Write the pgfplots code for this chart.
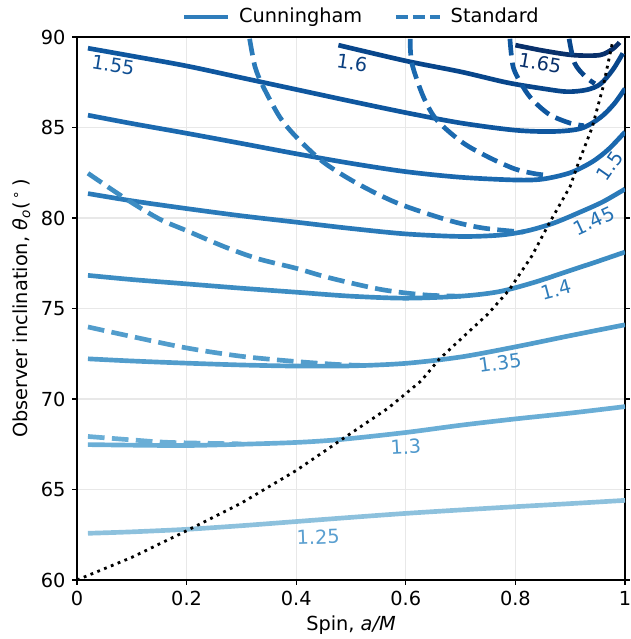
\documentclass[border=0pt]{standalone}
\usepackage{pgfplots}
\pgfplotsset{compat=1.18}
\usepackage{fontspec}
\setmainfont{DejaVu Sans}
\definecolor{c125}{HTML}{8DC1DD}
\definecolor{c130}{HTML}{6AAED6}
\definecolor{c135}{HTML}{529DCC}
\definecolor{c140}{HTML}{3D8DC3}
\definecolor{c145}{HTML}{2A7AB9}
\definecolor{c150}{HTML}{1B69AF}
\definecolor{c155}{HTML}{0F579F}
\definecolor{c160}{HTML}{08468B}
\definecolor{c165}{HTML}{08306B}
\definecolor{l125}{HTML}{5A9FD0}
\definecolor{l130}{HTML}{4E98CC}
\definecolor{l135}{HTML}{3D89C2}
\definecolor{l140}{HTML}{2F7DBB}
\definecolor{l145}{HTML}{2472B5}
\definecolor{l150}{HTML}{1A62A8}
\definecolor{l155}{HTML}{104F93}
\definecolor{l160}{HTML}{0A3F80}
\definecolor{l165}{HTML}{08306B}
\definecolor{legc}{HTML}{2F7DBB}
\begin{document}
\fontsize{14.5}{17}\selectfont
\begin{tikzpicture}
\begin{axis}[
  scale only axis,
  width=411pt, height=407.25pt,
  xmin=0, xmax=1, ymin=60, ymax=90,
  xtick={0,0.2,0.4,0.6,0.8,1},
  xticklabels={0,0.2,0.4,0.6,0.8,1},
  ytick={60,65,70,75,80,85,90},
  xtick pos=bottom, ytick pos=both,
  tick align=outside,
  major tick length=3.65pt,
  every tick/.style={black, line width=0.85pt},
  axis line style={line width=0.85pt},
  grid=major,
  major grid style={line width=0.8pt, color=black!9},
  /pgf/number format/assume math mode=true,
  tick label style={font=\fontsize{14.5}{17}\selectfont},
  label style={font=\fontsize{14.5}{17}\selectfont},
  xlabel={Spin, \textit{a/M}},
  ylabel={Observer inclination, \textit{θ}\textsubscript{\textit{o}}(\,\textsuperscript{∘}\,)},
  xlabel style={yshift=3pt},
  ylabel style={yshift=-2pt},
  clip=true,
  legend style={at={(0.52,1.037)}, anchor=center, draw=none, fill=none,
     font=\fontsize{14.5}{17}\selectfont, legend columns=2,
     /tikz/every odd column/.append style={column sep=5pt},
     /tikz/every even column/.append style={column sep=22pt}},
  legend cell align=left,
  legend image code/.code={\draw[#1] (0pt,0pt) -- (33pt,0pt);},
  every axis plot/.append style={line width=3.5pt, line join=round},
]
\addlegendimage{legc, line width=2.4pt}
\addlegendentry{Cunningham}
\addlegendimage{legc, line width=2.4pt, dash pattern=on 9pt off 3.9pt}
\addlegendentry{Standard}

% Cunningham (solid)
\addplot[c125, smooth, forget plot] coordinates {(0.02,62.58)(0.1,62.66)(0.2,62.8)(0.3,63.0)(0.4,63.23)(0.5,63.46)(0.6,63.68)(0.7,63.87)(0.8,64.05)(0.9,64.22)(1.0,64.4)};
\addplot[c130, smooth, forget plot] coordinates {(0.02,67.48)(0.1,67.45)(0.2,67.43)(0.3,67.5)(0.4,67.6)(0.48,67.76)(0.6,68.15)(0.7,68.55)(0.8,68.9)(0.9,69.22)(1.0,69.58)};
\addplot[c135, smooth, forget plot] coordinates {(0.02,72.22)(0.1,72.1)(0.2,71.98)(0.3,71.88)(0.4,71.82)(0.5,71.83)(0.6,71.97)(0.7,72.32)(0.8,72.88)(0.9,73.5)(1.0,74.1)};
\addplot[c140, smooth, forget plot] coordinates {(0.02,76.83)(0.1,76.6)(0.2,76.36)(0.3,76.12)(0.4,75.9)(0.5,75.68)(0.6,75.57)(0.7,75.68)(0.77,75.93)(0.835,76.45)(0.9,77.1)(0.95,77.6)(1.0,78.12)};
\addplot[c145, smooth, forget plot] coordinates {(0.02,81.35)(0.1,80.95)(0.2,80.52)(0.3,80.12)(0.4,79.77)(0.5,79.42)(0.6,79.12)(0.7,78.98)(0.77,79.05)(0.82,79.28)(0.87,79.72)(0.92,80.35)(0.96,80.9)(1.0,81.6)};
\addplot[c150, smooth, forget plot] coordinates {(0.02,85.68)(0.1,85.22)(0.2,84.68)(0.3,84.12)(0.4,83.55)(0.5,83.02)(0.6,82.56)(0.7,82.25)(0.8,82.1)(0.85,82.15)(0.9,82.5)(0.94,83.1)(0.97,83.8)(1.0,84.75)};
\addplot[c155, smooth, forget plot] coordinates {(0.02,89.38)(0.1,88.95)(0.2,88.4)(0.3,87.75)(0.4,87.1)(0.5,86.45)(0.6,85.82)(0.7,85.25)(0.8,84.85)(0.87,84.78)(0.92,84.95)(0.955,85.55)(0.98,86.3)(1.0,87.15)};
\addplot[c160, smooth, forget plot] coordinates {(0.477,89.55)(0.6,88.68)(0.7,88.08)(0.785,87.48)(0.85,87.15)(0.894,86.98)(0.93,87.08)(0.955,87.4)(0.978,88.2)(0.996,89.1)};
\addplot[c165, smooth, forget plot] coordinates {(0.8,89.55)(0.85,89.25)(0.905,89.0)(0.954,89.0)(0.978,89.35)(0.99,89.7)};

% Standard (dashed)
\addplot[c130, smooth, dash pattern=on 12.5pt off 5.5pt, forget plot] coordinates {(0.02,67.93)(0.1,67.74)(0.17,67.6)(0.3,67.52)};
\addplot[c135, smooth, dash pattern=on 12.5pt off 5.5pt, forget plot] coordinates {(0.02,73.98)(0.1,73.45)(0.2,72.82)(0.3,72.36)(0.4,72.07)(0.48,71.9)(0.53,71.85)};
\addplot[c140, smooth, dash pattern=on 12.5pt off 5.5pt, forget plot] coordinates {(0.02,82.47)(0.09,81.04)(0.15,79.95)(0.2,79.3)(0.27,78.4)(0.33,77.75)(0.4,77.22)(0.46,76.7)(0.555,76.05)(0.635,75.75)(0.7,75.68)};
\addplot[c145, smooth, dash pattern=on 12.5pt off 5.5pt, forget plot] coordinates {(0.315,89.9)(0.325,88.34)(0.34,87.24)(0.37,85.58)(0.4,84.48)(0.449,83.1)(0.51,81.93)(0.584,80.83)(0.675,79.9)(0.74,79.45)(0.815,79.22)};
\addplot[c150, smooth, dash pattern=on 12.5pt off 5.5pt, forget plot] coordinates {(0.608,89.9)(0.611,88.56)(0.632,86.7)(0.657,85.4)(0.705,84.14)(0.755,83.3)(0.8,82.7)(0.835,82.45)(0.86,82.35)};
\addplot[c155, smooth, dash pattern=on 12.5pt off 5.5pt, forget plot] coordinates {(0.79,89.9)(0.796,88.34)(0.814,87.24)(0.832,86.5)(0.863,85.7)(0.9,85.24)(0.925,85.1)};
\addplot[c160, smooth, dash pattern=on 12.5pt off 5.5pt, forget plot] coordinates {(0.898,89.9)(0.908,88.56)(0.928,87.8)(0.945,87.42)};

% dotted black
\addplot[black, line width=2.1pt, dash pattern=on 2.1pt off 3.4pt, forget plot] coordinates {(0,60)(0.1,61.25)(0.2,62.72)(0.3,64.25)(0.4,66.05)(0.48,67.7)(0.568,69.5)(0.628,71.0)(0.661,72.2)(0.7,73.3)(0.75,74.7)(0.788,76.0)(0.83,77.9)(0.861,79.67)(0.9,81.75)(0.912,82.8)(0.94,85.0)(0.96,87.24)(0.978,89.83)};

% labels
\node[text=l125, rotate=2] at (axis cs:0.44,62.37) {1.25};
\node[text=l130, rotate=3] at (axis cs:0.6,67.35) {1.3};
\node[text=l135, rotate=8] at (axis cs:0.772,72.0) {1.35};
\node[text=l140, rotate=15] at (axis cs:0.874,76.05) {1.4};
\node[text=l145, rotate=25, inner sep=1pt] at (axis cs:0.943,79.85) {1.45};
\node[text=l150, rotate=55, inner sep=1pt] at (axis cs:0.972,82.85) {1.5};
\node[text=l155, rotate=-9] at (axis cs:0.066,88.45) {1.55};
\node[text=l160, rotate=-8] at (axis cs:0.502,88.56) {1.6};
\node[text=l165, rotate=-10] at (axis cs:0.845,88.56) {1.65};
\end{axis}
\pgfresetboundingbox
\useasboundingbox ([shift={(-57.75pt,-44.25pt)}]current axis.south west) rectangle ([shift={(4.5pt,27.75pt)}]current axis.north east);
\end{tikzpicture}
\end{document}
